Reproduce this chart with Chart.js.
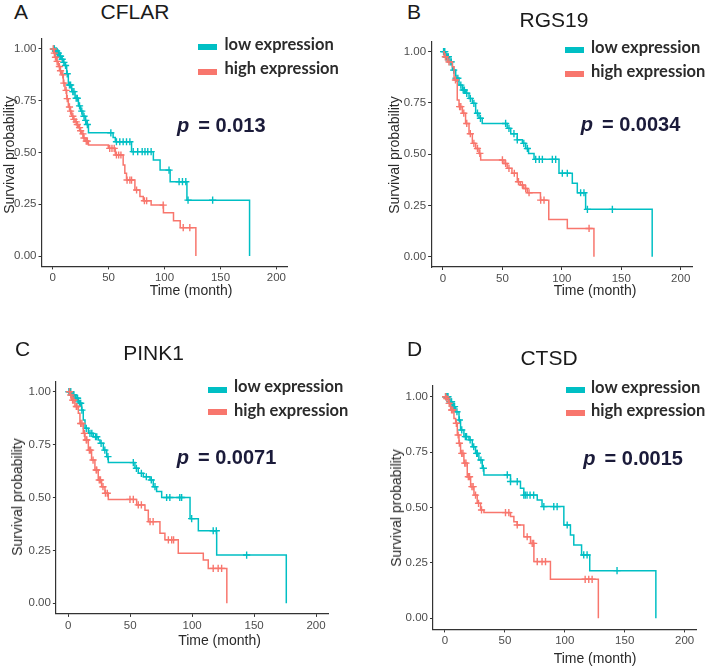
<!DOCTYPE html>
<html>
<head>
<meta charset="utf-8">
<script src="https://cdn.jsdelivr.net/npm/chart.js@4.4.1/dist/chart.umd.min.js"></script>
<style>
  html, body { margin:0; padding:0; background:#fff; }
  body { width:709px; height:668px; position:relative; overflow:hidden; }
  .box { position:absolute; }
  .t { position:absolute; white-space:nowrap; line-height:1; }
  .ttl { font-family: Arial, "Liberation Sans", sans-serif; font-size:21px; color:#1a1a1a; }
  .leg { font-family: Lato, "Open Sans", sans-serif; font-weight:700; font-size:16.5px; color:#2b2b2b; }
  .bar { position:absolute; width:19px; height:6px; }
  .pv { font-family: Arial, "Liberation Sans", sans-serif; font-weight:700; font-size:20px; color:#1b1b3a; }
  .pv i { margin-right:9px; }
  .ax { font-family: Arial, "Liberation Sans", sans-serif; font-size:14px; color:#2a2a2a; transform: translate(-50%,-50%); }
  .ay { font-family: Arial, "Liberation Sans", sans-serif; font-size:14px; color:#2a2a2a; transform: translate(-50%,-50%) rotate(-90deg); }
  .ctr { transform: translateX(-50%); }
</style>
</head>
<body>
<script>
// ---------------- data ----------------
const xTicks = [0, 50, 100, 150, 200];
const yTicks = [0, 0.25, 0.5, 0.75, 1];
const yTickLabels = ['0.00', '0.25', '0.50', '0.75', '1.00'];
const seriesNames = ['low expression', 'high expression'];

// Panel A  CFLAR
const A_lowT  = [0, 2, 4, 6, 8, 9.5, 11, 12.5, 14, 17, 20, 23, 25, 27, 29, 30.5, 32, 54, 56, 70.5, 90, 96, 105, 120, 176];
const A_lowS  = [1.0, 0.99, 0.98, 0.965, 0.95, 0.935, 0.92, 0.88, 0.826, 0.794, 0.762, 0.725, 0.70, 0.675, 0.655, 0.635, 0.595, 0.573, 0.552, 0.504, 0.464, 0.415, 0.359, 0.27, 0];
const A_lowC  = [1, 1.5, 2.5, 3, 3.5, 4.5, 5, 6.5, 7, 8.5, 10, 11.5, 13, 15, 16, 18, 19, 21, 22, 24, 26, 28, 29.5, 31, 52, 57, 60, 63, 66, 69, 72, 76, 80, 82.5, 85, 88, 104, 113, 116, 119, 121, 143];
const A_highT = [0, 1, 2, 3.5, 5, 6.5, 8, 9.5, 11, 12.5, 14, 15.5, 17, 18.5, 20, 21.5, 23, 24.5, 26, 27.5, 29, 32, 49.7, 56, 63, 64.5, 66, 73.5, 78, 81, 88, 99, 108, 114, 128];
const A_highS = [1.0, 0.98, 0.96, 0.94, 0.915, 0.895, 0.875, 0.835, 0.80, 0.76, 0.72, 0.70, 0.675, 0.66, 0.648, 0.635, 0.62, 0.605, 0.59, 0.57, 0.555, 0.536, 0.52, 0.488, 0.44, 0.40, 0.367, 0.319, 0.287, 0.267, 0.246, 0.209, 0.17, 0.137, 0];
const A_highC = [0.5, 1.5, 2.5, 4, 6, 7, 9, 10, 12, 13, 15, 16, 18, 19, 21, 22, 24, 25, 27, 28, 30, 31, 51, 53, 55, 57, 59, 61, 66.5, 69, 70.5, 75, 82, 84, 98.8, 116.7, 122.6];

// Panel B  RGS19
const B_lowT  = [0, 2.2, 5, 7.9, 10.7, 13.5, 16.3, 19, 21.9, 24.7, 27.5, 30.3, 33, 54, 57, 62.5, 66.8, 69.6, 72, 76.6, 97.6, 108.8, 113, 120, 176];
const B_lowS  = [1.0, 0.975, 0.95, 0.91, 0.87, 0.837, 0.813, 0.797, 0.772, 0.748, 0.70, 0.675, 0.65, 0.626, 0.60, 0.57, 0.553, 0.528, 0.504, 0.475, 0.407, 0.358, 0.312, 0.231, 0];
const B_lowC  = [0.5, 1, 1.5, 2.5, 3, 4, 4.5, 6, 7, 9, 11, 12.5, 15, 17, 18, 20, 23, 26, 29, 31.5, 52.7, 55.5, 59.7, 62.5, 68, 71, 78, 81, 83.6, 92, 94.8, 100.4, 104.6, 115.8, 118.6, 121.5, 142.5];
const B_highT = [0, 1, 3.6, 7.9, 9.3, 12, 13.5, 16.3, 19, 21.9, 24.7, 27.5, 30.3, 31.7, 51.3, 54, 58, 62.5, 65, 68, 71, 82, 89, 104.6, 127];
const B_highS = [1.0, 0.975, 0.95, 0.927, 0.862, 0.764, 0.732, 0.70, 0.65, 0.60, 0.553, 0.528, 0.504, 0.472, 0.455, 0.431, 0.407, 0.366, 0.35, 0.333, 0.312, 0.276, 0.182, 0.138, 0];
const B_highC = [2, 5, 10.5, 14, 15, 17.5, 20, 23, 26, 29, 31, 50, 52.7, 55.5, 60, 63.5, 66.8, 69.6, 72.4, 82.2, 85, 122.9];

// Panel C  PINK1
const C_lowT  = [0, 2.7, 5.4, 8.1, 10.8, 12.1, 13.5, 16.2, 20.2, 24.2, 25.6, 28.3, 31, 32.3, 53.8, 56.5, 60.6, 66, 68.6, 71.3, 75.4, 98.3, 105, 119.8, 176];
const C_lowS  = [1.0, 0.984, 0.969, 0.945, 0.913, 0.866, 0.827, 0.803, 0.787, 0.772, 0.756, 0.724, 0.693, 0.665, 0.638, 0.614, 0.598, 0.583, 0.551, 0.528, 0.50, 0.40, 0.343, 0.228, 0];
const C_lowC  = [0.5, 1.5, 2, 3, 4, 4.5, 6, 7, 7.5, 9, 10, 11, 14.5, 17.5, 19, 22, 23, 26.5, 29.5, 32, 52.5, 55, 59, 63, 67, 70, 79.4, 82, 90, 91.5, 99.6, 117, 119.5, 144];
const C_highT = [0, 1.2, 2.7, 5.4, 8.1, 9.4, 12.1, 13.5, 16.2, 18.8, 21.5, 24.2, 26.9, 29.6, 32.3, 55.2, 61.9, 64.6, 74, 78, 88.8, 109, 113, 128];
const C_highS = [1.0, 0.984, 0.96, 0.93, 0.898, 0.85, 0.803, 0.772, 0.724, 0.677, 0.63, 0.583, 0.551, 0.52, 0.491, 0.465, 0.44, 0.386, 0.331, 0.30, 0.236, 0.205, 0.165, 0];
const C_highC = [1, 2, 3.5, 4.5, 6.5, 7, 10, 11, 13, 14.5, 15, 17, 18, 20, 22.5, 23, 25, 26, 28, 30, 31.5, 49.8, 52.5, 56.5, 59, 66, 68.5, 80.8, 83.5, 85, 117, 121, 123.8];

// Panel D  CTSD
const D_lowT  = [0, 3.3, 6.1, 8.9, 11.7, 13, 15.8, 20, 22.8, 25.5, 28.3, 31.1, 32.5, 54.7, 63, 65.8, 77, 81, 99.2, 104.7, 107.5, 114, 120.8, 176];
const D_lowS  = [1.0, 0.977, 0.955, 0.932, 0.895, 0.85, 0.82, 0.805, 0.774, 0.744, 0.714, 0.677, 0.647, 0.617, 0.587, 0.556, 0.534, 0.504, 0.421, 0.376, 0.331, 0.286, 0.215, 0];
const D_lowC  = [0.5, 1, 2, 2.5, 4, 5, 5.5, 7, 8, 10, 12, 14, 17, 18, 21, 24, 26.5, 27, 30, 32, 52, 54.7, 60.3, 65.8, 67, 68.5, 71, 74, 82.5, 90.8, 93.6, 102, 115.8, 118.6, 143.6];
const D_highT = [0, 1, 2.8, 4.7, 7.5, 8.9, 10.3, 11.7, 13, 15.8, 18.6, 21.4, 24.2, 26.9, 29.7, 32.5, 54.7, 57.5, 60.3, 65.8, 71.4, 74.2, 88, 128];
const D_highS = [1.0, 0.992, 0.97, 0.94, 0.902, 0.88, 0.827, 0.79, 0.744, 0.70, 0.639, 0.594, 0.556, 0.519, 0.489, 0.477, 0.459, 0.436, 0.421, 0.368, 0.338, 0.256, 0.176, 0];
const D_highC = [0.5, 1.5, 3.5, 5.5, 6.5, 9.5, 11, 12, 14, 15, 16.5, 17.5, 19.5, 20.5, 22.5, 23.5, 25.5, 28, 30.5, 50.5, 53.3, 60.3, 68.6, 72.8, 74, 77, 81, 83.9, 117, 120, 122.8];

// ---------------- styling / layout (not data) ----------------
const TEAL = '#00BFC4';
const RED = '#F8766D';
const AXIS = '#333333';
const TICKC = '#4d4d4d';
const FONT = 'Arial, "Liberation Sans", sans-serif';

const panels = [
  { id:'A', gene:'CFLAR', p:'0.013',  plot:{l:41.5, r:288.0, t:38.6, b:266.4},
    lowT:A_lowT, lowS:A_lowS, lowC:A_lowC, highT:A_highT, highS:A_highS, highC:A_highC },
  { id:'B', gene:'RGS19', p:'0.0034', plot:{l:431.1, r:692.6, t:41.4, b:267.0},
    lowT:B_lowT, lowS:B_lowS, lowC:B_lowC, highT:B_highT, highS:B_highS, highC:B_highC },
  { id:'C', gene:'PINK1', p:'0.0071', plot:{l:55.9, r:328.4, t:381.1, b:613.9},
    lowT:C_lowT, lowS:C_lowS, lowC:C_lowC, highT:C_highT, highS:C_highS, highC:C_highC },
  { id:'D', gene:'CTSD', p:'0.0015', plot:{l:433.0, r:697.0, t:385.6, b:629.4},
    lowT:D_lowT, lowS:D_lowS, lowC:D_lowC, highT:D_highT, highS:D_highS, highC:D_highC }
];

function stepPoints(T, S) {
  return T.map((t, i) => ({ x: t, y: S[i] }));
}
function survAt(T, S, t) {
  let v = S[0];
  for (let i = 0; i < T.length; i++) { if (T[i] <= t) v = S[i]; }
  return v;
}
function censorPoints(C, T, S) {
  return C.map(t => ({ x: t, y: survAt(T, S, t) }));
}

function makePanel(pn) {
  const P = pn.plot;
  const YW = 40, XH = 30, PT = 12, PR = 5;
  const left = Math.floor(P.l) - YW;
  const top = Math.floor(P.t) - PT;
  const right = Math.ceil(P.r) + PR;
  const bottom = Math.ceil(P.b) + XH;
  const yW = YW + (P.l - Math.floor(P.l));
  const padTop = PT + (P.t - Math.floor(P.t));
  const padRight = PR + (Math.ceil(P.r) - P.r);
  const xH = XH + (Math.ceil(P.b) - P.b);

  const div = document.createElement('div');
  div.className = 'box';
  div.style.left = left + 'px';
  div.style.top = top + 'px';
  div.style.width = (right - left) + 'px';
  div.style.height = (bottom - top) + 'px';
  const cv = document.createElement('canvas');
  div.appendChild(cv);
  document.body.appendChild(div);

  const lineDs = (T, S, col) => ({
    type: 'line', data: stepPoints(T, S), borderColor: col, backgroundColor: col,
    borderWidth: 1.5, stepped: 'before', pointRadius: 0, fill: false, tension: 0
  });
  const censDs = (C, T, S, col) => ({
    type: 'scatter', data: censorPoints(C, T, S), borderColor: col, backgroundColor: col,
    pointStyle: 'cross', pointRadius: 3.6, borderWidth: 1.4, showLine: false
  });

  new Chart(cv, {
    type: 'line',
    data: { datasets: [
      lineDs(pn.highT, pn.highS, RED),
      censDs(pn.highC, pn.highT, pn.highS, RED),
      lineDs(pn.lowT, pn.lowS, TEAL),
      censDs(pn.lowC, pn.lowT, pn.lowS, TEAL)
    ]},
    options: {
      responsive: true, maintainAspectRatio: false, animation: false,
      layout: { padding: { top: padTop, right: padRight, left: 0, bottom: 0 } },
      plugins: { legend: { display: false }, tooltip: { enabled: false } },
      scales: {
        x: {
          type: 'linear', min: -10, max: 210,
          afterBuildTicks: s => { s.ticks = xTicks.map(v => ({ value: v })); },
          afterFit: s => { s.height = xH; },
          grid: { drawOnChartArea: false, drawTicks: true, tickLength: 3, color: AXIS, lineWidth: 1 },
          border: { display: true, color: AXIS, width: 1.2 },
          ticks: { color: TICKC, font: { family: FONT, size: 11.5 }, padding: 2, maxRotation: 0, autoSkip: false,
                   callback: v => String(v) }
        },
        y: {
          type: 'linear', min: -0.05, max: 1.05,
          afterBuildTicks: s => { s.ticks = yTicks.map(v => ({ value: v })); },
          afterFit: s => { s.width = yW; },
          grid: { drawOnChartArea: false, drawTicks: true, tickLength: 3, color: AXIS, lineWidth: 1 },
          border: { display: true, color: AXIS, width: 1.2 },
          ticks: { color: TICKC, font: { family: FONT, size: 11.5 }, padding: 2, autoSkip: false,
                   callback: v => { const i = yTicks.indexOf(v); return i >= 0 ? yTickLabels[i] : ''; } }
        }
      }
    }
  });
}

function addText(cls, html, left, top) {
  const d = document.createElement('div');
  d.className = 't ' + cls;
  d.innerHTML = html;
  d.style.left = left + 'px';
  d.style.top = top + 'px';
  document.body.appendChild(d);
  return d;
}
function addBar(col, left, top) {
  const d = document.createElement('div');
  d.className = 'bar';
  d.style.background = col;
  d.style.left = left + 'px';
  d.style.top = top + 'px';
  document.body.appendChild(d);
}

// text / legend placement per panel
const deco = [
  { letter:[14, 0.5], gene:[135, 1.0], leg:{bar:198, text:224.5, y1:36.1, b1:43.5, y2:60.4, b2:68.5}, p:[177, 114.8], yt:[8.5, 155], xt:[191, 290] },
  { letter:[407, 0.5], gene:[554, 9.0], leg:{bar:565, text:591, y1:38.7, b1:47, y2:62.7, b2:70.5}, p:[580.7, 113.8], yt:[394, 155], xt:[595, 290] },
  { letter:[15, 337.5], gene:[153.5, 341.5], leg:{bar:208, text:234, y1:378.1, b1:387, y2:402.1, b2:409}, p:[176.7, 447.1], yt:[16.7, 497], xt:[219.5, 640] },
  { letter:[407, 337.5], gene:[549, 347.2], leg:{bar:565.7, text:591, y1:378.7, b1:387, y2:402.4, b2:409.5}, p:[583.3, 448.1], yt:[395.7, 508], xt:[595, 658] }
];

panels.forEach((pn, i) => {
  makePanel(pn);
  const d = deco[i];
  addText('ttl', pn.id, d.letter[0], d.letter[1]);
  addText('ttl ctr', pn.gene, d.gene[0], d.gene[1]);
  addBar(TEAL, d.leg.bar, d.leg.b1);
  addText('leg', seriesNames[0], d.leg.text, d.leg.y1);
  addBar(RED, d.leg.bar, d.leg.b2);
  addText('leg', seriesNames[1], d.leg.text, d.leg.y2);
  addText('pv', '<i>p</i>= ' + pn.p, d.p[0], d.p[1]);
  addText('ay', 'Survival probability', d.yt[0], d.yt[1]);
  addText('ax', 'Time (month)', d.xt[0], d.xt[1]);
});
</script>
</body>
</html>
